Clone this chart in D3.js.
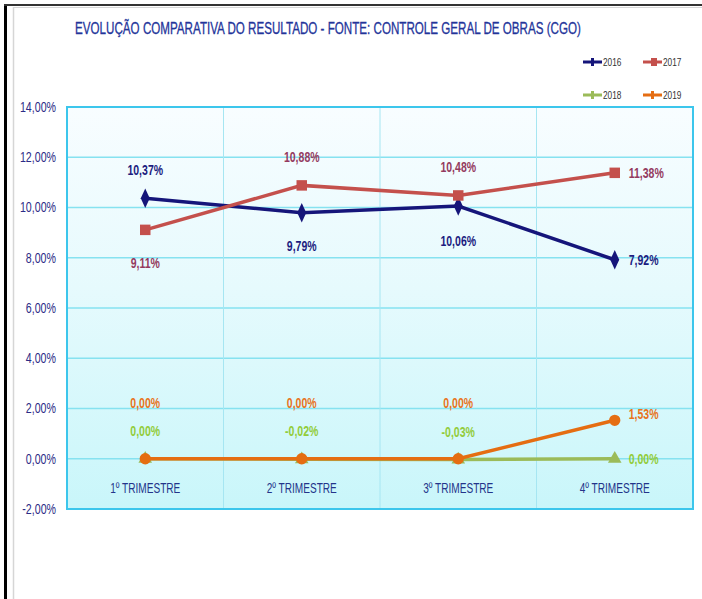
<!DOCTYPE html>
<html>
<head>
<meta charset="utf-8">
<script src="https://cdn.jsdelivr.net/npm/d3@7"></script>
<style>
  body { margin: 0; background: #fff; }
  svg { display: block; }
  text { font-family: 'Liberation Sans', Arial, sans-serif; }
</style>
</head>
<body>
<div id="chart"></div>
<script>
// chart data
const categories = ['1º TRIMESTRE', '2º TRIMESTRE', '3º TRIMESTRE', '4º TRIMESTRE'];
const years = ['2016', '2017', '2018', '2019'];
const values2016 = [10.37, 9.79, 10.06, 7.92];
const values2017 = [9.11, 10.88, 10.48, 11.38];
const values2018 = [0.00, -0.02, -0.03, 0.00];
const values2019 = [0.00, 0.00, 0.00, 1.53];
const yTicks = [-2, 0, 2, 4, 6, 8, 10, 12, 14];

// label placement per point: 'up', 'down', 'right', 'up2'
const series = [
  {name: years[0], values: values2016, color: '#15157a', label: '#1c1c80', shape: 'diamond', pos: ['up', 'down', 'down', 'right']},
  {name: years[1], values: values2017, color: '#c4504c', label: '#943a5e', shape: 'square', pos: ['down', 'up', 'up', 'right']},
  {name: years[2], values: values2018, color: '#9bbb59', label: '#92cc3a', shape: 'triangle', pos: ['up', 'up', 'up', 'right']},
  {name: years[3], values: values2019, color: '#e56d12', label: '#e8731c', shape: 'circle', pos: ['up2', 'up2', 'up2', 'right']}
];

const W = 702, H = 599;
const margin = {top: 107, left: 67, right: 9, bottom: 90};
const width = W - margin.left - margin.right;
const height = H - margin.top - margin.bottom;

const locale = d3.formatLocale({decimal: ',', thousands: '.', grouping: [3], currency: ['', ''], minus: '-'});
const fmt = v => locale.format('.2f')(v) + '%';

// the reference uses a narrow font, so squeeze text horizontally
function squeeze(sel, k) {
  sel.each(function() {
    const len = this.getComputedTextLength();
    d3.select(this).attr('textLength', len * k).attr('lengthAdjust', 'spacingAndGlyphs');
  });
}

const svg = d3.select('#chart').append('svg')
    .attr('width', W)
    .attr('height', H);

// outer frame
svg.append('rect').attr('x', 0).attr('y', 0).attr('width', W).attr('height', H).attr('fill', '#fff');
svg.append('line').attr('x1', 5.5).attr('x2', 5.5).attr('y1', 4).attr('y2', H).attr('stroke', '#000').attr('stroke-width', 3);
svg.append('line').attr('x1', 4).attr('x2', W).attr('y1', 5).attr('y2', 5).attr('stroke', '#333').attr('stroke-width', 2);
svg.append('line').attr('x1', 13.5).attr('x2', 13.5).attr('y1', 7).attr('y2', H).attr('stroke', '#d6d6d6').attr('stroke-width', 1.5);
svg.append('line').attr('x1', 13).attr('x2', W).attr('y1', 7.5).attr('y2', 7.5).attr('stroke', '#d6d6d6').attr('stroke-width', 1);

// title, scaled to the width it has in the reference
const title = svg.append('text')
    .attr('text-anchor', 'middle')
    .attr('fill', '#23349a')
    .attr('stroke', '#23349a')
    .attr('stroke-width', 0.3)
    .style('font-size', '16.5px')
    .text('EVOLUÇÃO COMPARATIVA DO RESULTADO - FONTE: CONTROLE GERAL DE OBRAS (CGO)');
const titleLen = title.node().getComputedTextLength();
title.attr('transform', `translate(328,34) scale(${506 / titleLen},1)`);

const x = d3.scaleBand().domain(categories).range([0, width]);
const y = d3.scaleLinear().domain([-2, 14]).range([height, 0]);

const g = svg.append('g').attr('transform', `translate(${margin.left},${margin.top})`);

// plot background gradient
const defs = svg.append('defs');
const grad = defs.append('linearGradient').attr('id', 'bg').attr('x1', 0).attr('x2', 0).attr('y1', 0).attr('y2', 1);
grad.append('stop').attr('offset', '0%').attr('stop-color', '#f8fdff');
grad.append('stop').attr('offset', '45%').attr('stop-color', '#e6fafd');
grad.append('stop').attr('offset', '100%').attr('stop-color', '#c9f6fa');

g.append('rect')
    .attr('width', width)
    .attr('height', height)
    .attr('fill', 'url(#bg)');

// horizontal gridlines
g.append('g')
    .selectAll('line')
    .data(yTicks)
    .join('line')
    .attr('x1', 0).attr('x2', width)
    .attr('y1', d => y(d)).attr('y2', d => y(d))
    .attr('stroke', '#86e2f0')
    .attr('stroke-width', 1.5);

// vertical gridlines between categories
g.append('g')
    .selectAll('line')
    .data(categories.slice(1))
    .join('line')
    .attr('x1', d => x(d)).attr('x2', d => x(d))
    .attr('y1', 0).attr('y2', height)
    .attr('stroke', '#a6e6f2')
    .attr('stroke-width', 1);

g.append('rect')
    .attr('width', width)
    .attr('height', height)
    .attr('fill', 'none')
    .attr('stroke', '#3cc6ec')
    .attr('stroke-width', 2);

// y axis labels
const yAxis = d3.axisLeft(y).tickValues(yTicks).tickSize(0).tickPadding(11).tickFormat(fmt);
g.append('g')
    .call(yAxis)
    .call(s => s.select('.domain').remove())
    .selectAll('text')
    .attr('fill', '#2b2b86')
    .style('font-size', '14px')
    .call(squeeze, 0.76);

// category labels
const xAxis = d3.axisBottom(x).tickSize(0).tickPadding(0);
g.append('g')
    .attr('transform', `translate(0,${y(0)})`)
    .call(xAxis)
    .call(s => s.select('.domain').remove())
    .selectAll('text')
    .attr('dy', 0)
    .attr('y', 34)
    .attr('fill', '#23348a')
    .style('font-size', '14px')
    .call(squeeze, 0.72);

const cx = d => x(d) + x.bandwidth() / 2;
const line = d3.line().x((d, i) => cx(categories[i])).y(d => y(d));

const symbolFor = {
  diamond: d3.symbol().type(d3.symbolDiamond).size(70),
  square: d3.symbol().type(d3.symbolSquare).size(110),
  triangle: d3.symbol().type(d3.symbolTriangle).size(80),
  circle: d3.symbol().type(d3.symbolCircle).size(100)
};

// draw order: 2018 under 2019 as in reference
const seriesG = g.selectAll('.series')
    .data(series)
    .join('g')
    .attr('class', 'series');

seriesG.append('path')
    .attr('d', d => line(d.values))
    .attr('fill', 'none')
    .attr('stroke', d => d.color)
    .attr('stroke-width', 3.5);

seriesG.selectAll('.marker')
    .data(d => d.values.map((v, i) => ({v, i, s: d})))
    .join('path')
    .attr('class', 'marker')
    .attr('transform', d => `translate(${cx(categories[d.i])},${y(d.v)})` + (d.s.shape === 'diamond' ? ' scale(1,1.25)' : ''))
    .attr('d', d => symbolFor[d.s.shape]())
    .attr('fill', d => d.s.color);

// data labels
const labelOffset = {
  up: {dx: 0, dy: -23, anchor: 'middle'},
  up2: {dx: 0, dy: -51, anchor: 'middle'},
  down: {dx: 0, dy: 38, anchor: 'middle'},
  right: {dx: 14, dy: 5, anchor: 'start'}
};

seriesG.selectAll('.dlabel')
    .data(d => d.values.map((v, i) => ({v, i, s: d})))
    .join('text')
    .attr('class', 'dlabel')
    .attr('x', d => cx(categories[d.i]) + labelOffset[d.s.pos[d.i]].dx)
    .attr('y', d => {
      let off = labelOffset[d.s.pos[d.i]].dy;
      if (d.s.name === '2016' && d.i === 2) off = 40;
      if (d.s.name === '2019' && d.i === 3) off = -1;
      return y(d.v) + off;
    })
    .attr('text-anchor', d => labelOffset[d.s.pos[d.i]].anchor)
    .attr('fill', d => d.s.label)
    .style('font-size', '15px')
    .style('font-weight', 'bold')
    .text(d => fmt(d.v))
    .call(squeeze, 0.7);

// legend
const legendPos = [[583, 62], [643, 62], [583, 95], [643, 95]];
const legend = svg.append('g')
    .selectAll('g')
    .data(series)
    .join('g')
    .attr('transform', (d, i) => `translate(${legendPos[i][0]},${legendPos[i][1]})`);

legend.append('line')
    .attr('x1', 0).attr('x2', 19)
    .attr('stroke', d => d.color)
    .attr('stroke-width', 3);
legend.append('rect')
    .attr('x', 8).attr('y', -4).attr('width', d => d.shape === 'square' ? 6 : 3).attr('height', 8)
    .attr('fill', d => d.color);
legend.append('text')
    .attr('x', 20)
    .attr('y', 4)
    .attr('fill', '#333')
    .style('font-size', '11.5px')
    .text(d => d.name)
    .call(squeeze, 0.72);
</script>
</body>
</html>
